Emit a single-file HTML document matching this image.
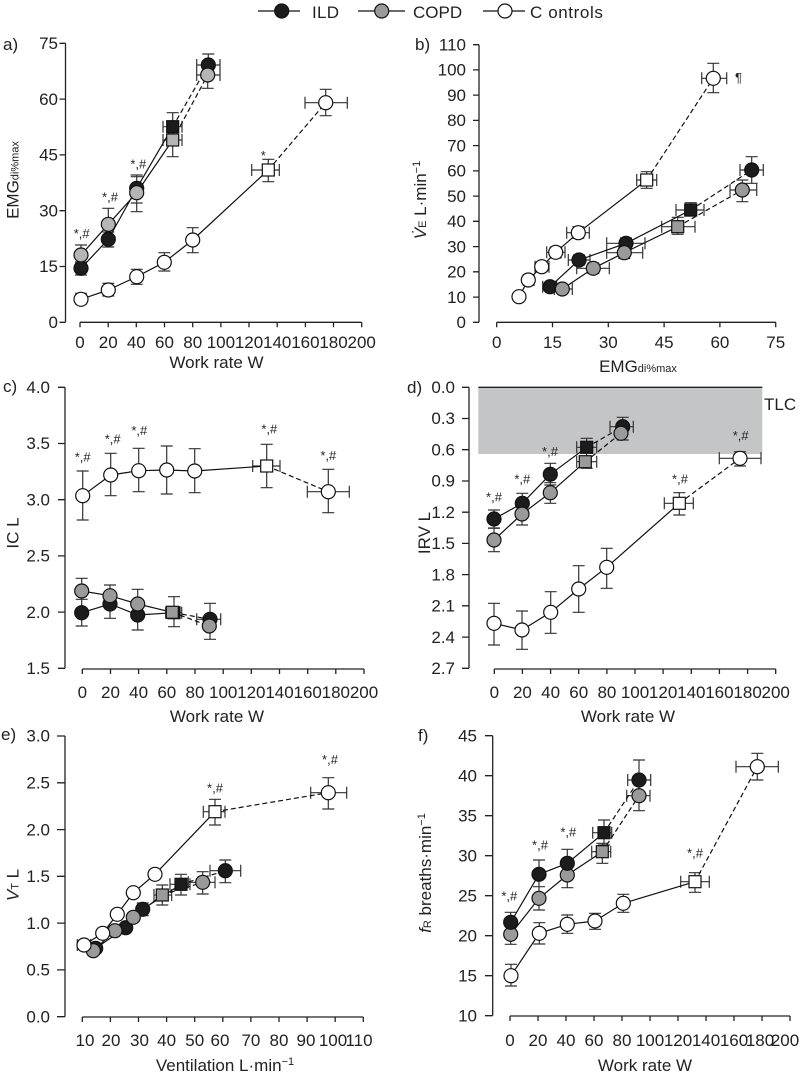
<!DOCTYPE html>
<html><head><meta charset="utf-8"><style>
html,body{margin:0;padding:0;background:#fff;}
svg{display:block;}
.ax{stroke:#222;stroke-width:1.3;fill:none}
.eb{stroke:#333;stroke-width:1.2;fill:none}
.ln{stroke:#111;stroke-width:1.2;fill:none}
.dl{stroke:#111;stroke-width:1.2;fill:none;stroke-dasharray:5 3}
.k{fill:#1c1c1c;stroke:#111;stroke-width:1.2}
.g{fill:#9a9a9a;stroke:#111;stroke-width:1.2}
.ga{fill:#b5b5b5;stroke:#111;stroke-width:1.2}
.w{fill:#fff;stroke:#111;stroke-width:1.2}
circle{r:7px}
text{font-family:"Liberation Sans",sans-serif;fill:#222}
.t{font-size:17px}
.an{font-size:13px}
</style></head><body>
<svg width="799" height="1075" viewBox="0 0 799 1075" xmlns="http://www.w3.org/2000/svg">

<!-- Legend -->
<g>
<path class="ln" d="M258 11H300M358 11H405M483 11H525"/>
<circle class="k" cx="281.7" cy="11" r="7"/>
<circle class="g" cx="381.7" cy="11" r="7"/>
<circle class="w" cx="505" cy="11" r="7"/>
<text class="t" x="312" y="18" letter-spacing="0.3">ILD</text>
<text class="t" x="413" y="18">COPD</text>
<text class="t" x="530" y="18" letter-spacing="0.6">C ontrols</text>
</g>

<!-- ================= Panel a ================= -->
<g>
<text class="t" x="3" y="50">a)</text>
<path class="ax" d="M65.5 43.3V322.3M59.5 43.3H65.5M59.5 99.1H65.5M59.5 154.9H65.5M59.5 210.7H65.5M59.5 266.5H65.5M59.5 322.3H65.5
M80 322.3H361.7M80 322.3v5M108.2 322.3v5M136.3 322.3v5M164.5 322.3v5M192.7 322.3v5M220.9 322.3v5M249 322.3v5M277.2 322.3v5M305.4 322.3v5M333.5 322.3v5M361.7 322.3v5"/>
<g class="t" text-anchor="end">
<text x="58" y="49">75</text><text x="58" y="104.8">60</text><text x="58" y="160.6">45</text><text x="58" y="216.4">30</text><text x="58" y="272.2">15</text><text x="58" y="328">0</text>
</g>
<g class="t" text-anchor="middle">
<text x="80" y="348">0</text><text x="108.2" y="348">20</text><text x="136.3" y="348">40</text><text x="164.5" y="348">60</text><text x="192.7" y="348">80</text><text x="220.9" y="348">100</text><text x="249" y="348">120</text><text x="277.2" y="348">140</text><text x="305.4" y="348">160</text><text x="333.5" y="348">180</text><text x="361.7" y="348">200</text>
<text x="216.5" y="368">Work rate W</text>
</g>
<text class="t" text-anchor="middle" transform="translate(18.5,180) rotate(-90)">EMG<tspan font-size="11">di%max</tspan></text>

<path class="eb" d="M81 262V275M75 262h12M75 275h12
M108.3 232V247M102.3 232h12M102.3 247h12
M136.7 175V203M130.7 175h12M130.7 203h12
M172.7 112.7V140M166.7 112.7h12M166.7 140h12
M163 126.7H182M163 120.7v12M182 120.7v12
M208.3 54V75M202.3 54h12M202.3 75h12
M196.7 65H220M196.7 59v12M220 59v12
M81 245V263.3M75 245h12M75 263.3h12
M108.3 208.3V240M102.3 208.3h12M102.3 240h12
M136.7 176.7V211.7M130.7 176.7h12M130.7 211.7h12
M172.7 126V156.7M166.7 126h12M166.7 156.7h12
M163 140H182M163 134v12M182 134v12
M207.7 66.7V88.3M201.7 66.7h12M201.7 88.3h12
M196.7 75H220M196.7 69v12M220 69v12
M81 293.3V304M75 293.3h12M75 304h12
M108.3 283.3V296M102.3 283.3h12M102.3 296h12
M136.7 269.3V284.3M130.7 269.3h12M130.7 284.3h12
M164.3 252.7V271M158.3 252.7h12M158.3 271h12
M192.7 227.7V252.7M186.7 227.7h12M186.7 252.7h12
M268.3 159.3V181.7M262.3 159.3h12M262.3 181.7h12
M251.7 170H279.3M251.7 164v12M279.3 164v12
M325.7 89.3V115.7M319.7 89.3h12M319.7 115.7h12
M305 102.7H347.3M305 96.7v12M347.3 96.7v12"/>
<path class="ln" d="M81 268.3L108.3 239.3L136.7 188.3L172.7 126.7M81 255L108.3 224.3L136.7 192.7L172.7 140M81 299.3L108.3 290L136.7 276.7L164.3 262.3L192.7 240L268.3 170"/>
<path class="dl" d="M172.7 126.7L208.3 65M172.7 140L207.7 75M268.3 170L325.7 102.7"/>
<g class="k"><circle cx="81" cy="268.3" r="6.7"/><circle cx="108.3" cy="239.3" r="6.7"/><circle cx="136.7" cy="188.3" r="6.7"/><circle cx="208.3" cy="65" r="6.7"/><rect x="166.7" y="120.7" width="12" height="12"/></g>
<g class="ga"><circle cx="81" cy="255" r="6.7"/><circle cx="108.3" cy="224.3" r="6.7"/><circle cx="136.7" cy="192.7" r="6.7"/><circle cx="207.7" cy="75" r="6.7"/><rect x="166.7" y="134" width="12" height="12"/></g>
<g class="w"><circle cx="81" cy="299.3" r="6.7"/><circle cx="108.3" cy="290" r="6.7"/><circle cx="136.7" cy="276.7" r="6.7"/><circle cx="164.3" cy="262.3" r="6.7"/><circle cx="192.7" cy="240" r="6.7"/><circle cx="325.7" cy="102.7" r="6.7"/><rect x="262.3" y="164" width="12" height="12"/></g>
<g class="an" text-anchor="middle"><text x="81.7" y="238">*,#</text><text x="110" y="201.7">*,#</text><text x="138.3" y="168.3">*,#</text><text x="263.3" y="160">*</text></g>
</g>

<!-- ================= Panel b ================= -->
<g>
<text class="t" x="415" y="50">b)</text>
<path class="ax" d="M479 44.7V322.3M473 322.3H479M473 297.1H479M473 271.8H479M473 246.6H479M473 221.3H479M473 196.1H479M473 170.9H479M473 145.6H479M473 120.4H479M473 95.1H479M473 69.9H479M473 44.7H479
M496.7 322.3H775.7M496.7 322.3v5M552.5 322.3v5M608.3 322.3v5M664.1 322.3v5M719.9 322.3v5M775.7 322.3v5"/>
<g class="t" text-anchor="end">
<text x="466" y="328">0</text><text x="466" y="302.8">10</text><text x="466" y="277.5">20</text><text x="466" y="252.3">30</text><text x="466" y="227">40</text><text x="466" y="201.8">50</text><text x="466" y="176.6">60</text><text x="466" y="151.3">70</text><text x="466" y="126.1">80</text><text x="466" y="100.8">90</text><text x="466" y="75.6">100</text><text x="466" y="50.4">110</text>
</g>
<g class="t" text-anchor="middle">
<text x="496.7" y="348">0</text><text x="552.5" y="348">15</text><text x="608.3" y="348">30</text><text x="664.1" y="348">45</text><text x="719.9" y="348">60</text><text x="775.7" y="348">75</text>
<text x="638" y="372">EMG<tspan font-size="11">di%max</tspan></text>
</g>
<text class="t" text-anchor="middle" transform="translate(426,200) rotate(-90)"><tspan font-style="italic">V̇</tspan><tspan font-size="11">E</tspan> L·min<tspan font-size="11" dy="-6">−1</tspan></text>

<path class="eb" d="M713.3 63.3V92.7M707.3 63.3h12M707.3 92.7h12
M701.7 78.3H726.7M701.7 72.3v12M726.7 72.3v12
M646.7 171.7V188.3M640.7 171.7h12M640.7 188.3h12
M636.7 180H656.7M636.7 174v12M656.7 174v12
M578.3 226.7V238.3M572.3 226.7h12M572.3 238.3h12
M566.7 232.7H589.3M566.7 226.7v12M589.3 226.7v12
M555.7 247V258M549.7 247h12M549.7 258h12
M546.7 252.3H565M546.7 246.3v12M565 246.3v12
M541.7 262V271.5M535.7 262h12M535.7 271.5h12
M535 266.7H549M535 260.7v12M549 260.7v12
M523.3 280H534M523.3 274v12M534 274v12
M751.7 156.7V183.3M745.7 156.7h12M745.7 183.3h12
M740 170H763.3M740 164v12M763.3 164v12
M690.7 202.7V216M684.7 202.7h12M684.7 216h12
M676 210H704M676 204v12M704 204v12
M626 238V248.7M620 238h12M620 248.7h12
M606.7 243.3H645M606.7 237.3v12M645 237.3v12
M579 255V265M573 255h12M573 265h12
M568.3 260H590M568.3 254v12M590 254v12
M542.7 286.7H556.7M542.7 280.7v12M556.7 280.7v12
M742.3 180V201.7M736.3 180h12M736.3 201.7h12
M730 190H756.7M730 184v12M756.7 184v12
M677.7 217.3V234.3M671.7 217.3h12M671.7 234.3h12
M661.7 226.7H695M661.7 220.7v12M695 220.7v12
M624.3 247V258.5M618.3 247h12M618.3 258.5h12
M606.7 252.7H642.7M606.7 246.7v12M642.7 246.7v12
M593.3 263V273.5M587.3 263h12M587.3 273.5h12
M576.7 268.3H609.3M576.7 262.3v12M609.3 262.3v12
M554.3 289H572.3M554.3 283v12M572.3 283v12"/>
<path class="ln" d="M519 296.7L528.3 280L541.7 266.7L555.7 252.3L578.3 232.7L646.7 180M550 286.7L579 260L626 243.3L690.7 210M562.3 289L593.3 268.3L624.3 252.7L677.7 226.7"/>
<path class="dl" d="M646.7 180L713.3 78.3M690.7 210L751.7 170M677.7 226.7L742.3 190"/>
<g class="w"><circle cx="519" cy="296.7" r="6.7"/><circle cx="528.3" cy="280" r="6.7"/><circle cx="541.7" cy="266.7" r="6.7"/><circle cx="555.7" cy="252.3" r="6.7"/><circle cx="578.3" cy="232.7" r="6.7"/><circle cx="713.3" cy="78.3" r="6.7"/><rect x="640.7" y="174" width="12" height="12"/></g>
<g class="k"><circle cx="550" cy="286.7" r="6.7"/><circle cx="579" cy="260" r="6.7"/><circle cx="626" cy="243.3" r="6.7"/><circle cx="751.7" cy="170" r="6.7"/><rect x="684.7" y="204" width="12" height="12"/></g>
<g class="g"><circle cx="562.3" cy="289" r="6.7"/><circle cx="593.3" cy="268.3" r="6.7"/><circle cx="624.3" cy="252.7" r="6.7"/><circle cx="742.3" cy="190" r="6.7"/><rect x="671.7" y="220.7" width="12" height="12"/></g>
<text class="an" x="735" y="82">¶</text>
</g>

<!-- ================= Panel c ================= -->
<g>
<text class="t" x="3" y="392">c)</text>
<path class="ax" d="M65 387.3V668.3M58 387.3H65M58 443.5H65M58 499.7H65M58 555.9H65M58 612.1H65M58 668.3H65
M82.3 669H364M82.3 669v5M110.5 669v5M138.6 669v5M166.8 669v5M195 669v5M223.2 669v5M251.3 669v5M279.5 669v5M307.7 669v5M335.8 669v5M364 669v5"/>
<g class="t" text-anchor="end">
<text x="50" y="393">4.0</text><text x="50" y="449.2">3.5</text><text x="50" y="505.4">3.0</text><text x="50" y="561.6">2.5</text><text x="50" y="617.8">2.0</text><text x="50" y="674">1.5</text>
</g>
<g class="t" text-anchor="middle">
<text x="82.3" y="698">0</text><text x="110.5" y="698">20</text><text x="138.6" y="698">40</text><text x="166.8" y="698">60</text><text x="195" y="698">80</text><text x="223.2" y="698">100</text><text x="251.3" y="698">120</text><text x="279.5" y="698">140</text><text x="307.7" y="698">160</text><text x="335.8" y="698">180</text><text x="364" y="698">200</text>
<text x="217" y="722">Work rate W</text>
</g>
<text class="t" text-anchor="middle" transform="translate(18.5,533) rotate(-90)">IC L</text>

<path class="eb" d="M82.7 471V520M76.7 471h12M76.7 520h12
M110.7 453.3V495.7M104.7 453.3h12M104.7 495.7h12
M138.7 448.3V491.7M132.7 448.3h12M132.7 491.7h12
M166.7 446V494M160.7 446h12M160.7 494h12
M194.7 448.7V492.7M188.7 448.7h12M188.7 492.7h12
M266.7 444.3V487.7M260.7 444.3h12M260.7 487.7h12
M252.7 466H280M252.7 460v12M280 460v12
M328.3 469.3V512.7M322.3 469.3h12M322.3 512.7h12
M307.3 491.7H349.3M307.3 485.7v12M349.3 485.7v12
M81.7 599.3V626M75.7 599.3h12M75.7 626h12
M110 591.7V618.3M104 591.7h12M104 618.3h12
M137.7 603.3V630M131.7 603.3h12M131.7 630h12
M174 596.7V626.7M168 596.7h12M168 626.7h12
M165.7 612.7H181.7M165.7 606.7v12M181.7 606.7v12
M210 603.3V639.3M204 603.3h12M204 639.3h12
M196.7 619.3H220.7M196.7 613.3v12M220.7 613.3v12
M81.7 578.3V599.3M75.7 578.3h12M75.7 599.3h12
M110 585V606M104 585h12M104 606h12
M137.7 589.3V612.7M131.7 589.3h12M131.7 612.7h12"/>
<path class="ln" d="M82.7 495.7L110.7 475L138.7 470.7L166.7 470L194.7 471L266.7 466M81.7 612.7L110 604L137.7 615L174 612.7M81.7 591L110 595.7L137.7 604L172.3 612.3"/>
<path class="dl" d="M266.7 466L328.3 491.7M174 612.7L210 619.3M172.3 612.3L209.3 626"/>
<g class="w"><circle cx="82.7" cy="495.7" r="6.7"/><circle cx="110.7" cy="475" r="6.7"/><circle cx="138.7" cy="470.7" r="6.7"/><circle cx="166.7" cy="470" r="6.7"/><circle cx="194.7" cy="471" r="6.7"/><circle cx="328.3" cy="491.7" r="6.7"/><rect x="260.7" y="460" width="12" height="12"/></g>
<g class="k"><circle cx="81.7" cy="612.7" r="6.7"/><circle cx="110" cy="604" r="6.7"/><circle cx="137.7" cy="615" r="6.7"/><circle cx="210" cy="619.3" r="6.7"/><rect x="168" y="606.7" width="12" height="12"/></g>
<g class="g"><circle cx="81.7" cy="591" r="6.7"/><circle cx="110" cy="595.7" r="6.7"/><circle cx="137.7" cy="604" r="6.7"/><circle cx="209.3" cy="626" r="6.7"/><rect x="166.3" y="606.3" width="12" height="12"/></g>
<g class="an" text-anchor="middle"><text x="82.7" y="461.7">*,#</text><text x="112.7" y="443.3">*,#</text><text x="139.3" y="435">*,#</text><text x="269.3" y="433.3">*,#</text><text x="328.3" y="460">*,#</text></g>
</g>

<!-- ================= Panel d ================= -->
<g>
<rect x="478.3" y="387.3" width="284" height="66.7" fill="#c4c5c7"/>
<path class="ax" d="M478.3 387.3H762.3"/>
<text class="t" x="764" y="410">TLC</text>
<text class="t" x="407" y="393">d)</text>
<path class="ax" d="M469 387.3V668.3M462 387.3H469M462 418.5H469M462 449.7H469M462 481H469M462 512.2H469M462 543.4H469M462 574.6H469M462 605.8H469M462 637.1H469M462 668.3H469
M494.3 669H775.7M494.3 669v5M522.4 669v5M550.6 669v5M578.7 669v5M606.9 669v5M635 669v5M663.1 669v5M691.3 669v5M719.4 669v5M747.6 669v5M775.7 669v5"/>
<g class="t" text-anchor="end">
<text x="455" y="393">0.0</text><text x="455" y="424.2">0.3</text><text x="455" y="455.4">0.6</text><text x="455" y="486.7">0.9</text><text x="455" y="517.9">1.2</text><text x="455" y="549.1">1.5</text><text x="455" y="580.3">1.8</text><text x="455" y="611.5">2.1</text><text x="455" y="642.8">2.4</text><text x="455" y="674">2.7</text>
</g>
<g class="t" text-anchor="middle">
<text x="494.3" y="698">0</text><text x="522.4" y="698">20</text><text x="550.6" y="698">40</text><text x="578.7" y="698">60</text><text x="606.9" y="698">80</text><text x="635" y="698">100</text><text x="663.1" y="698">120</text><text x="691.3" y="698">140</text><text x="719.4" y="698">160</text><text x="747.6" y="698">180</text><text x="775.7" y="698">200</text>
<text x="628" y="722">Work rate W</text>
</g>
<text class="t" text-anchor="middle" transform="translate(430,533) rotate(-90)">IRV L</text>

<path class="eb" d="M494 603.3V645M488 603.3h12M488 645h12
M522 611V649.3M516 611h12M516 649.3h12
M550.7 591.7V633.3M544.7 591.7h12M544.7 633.3h12
M578.7 565.7V612.3M572.7 565.7h12M572.7 612.3h12
M606.7 548.3V588.3M600.7 548.3h12M600.7 588.3h12
M679.3 492.7V515M673.3 492.7h12M673.3 515h12
M664.3 503.3H693.3M664.3 497.3v12M693.3 497.3v12
M740 451.7V466M734 451.7h12M734 466h12
M719.3 458.3H761M719.3 452.3v12M761 452.3v12
M494 510V528M488 510h12M488 528h12
M522.3 493.3V513.3M516.3 493.3h12M516.3 513.3h12
M550.3 463.3V485M544.3 463.3h12M544.3 485h12
M586.7 438.3V468.3M580.7 438.3h12M580.7 468.3h12
M576.7 447.3H596.7M576.7 441.3v12M596.7 441.3v12
M622.7 417.3V440M616.7 417.3h12M616.7 440h12
M610 426.7H633.3M610 420.7v12M633.3 420.7v12
M494 528.3V551.7M488 528.3h12M488 551.7h12
M522 505V525M516 505h12M516 525h12
M550.3 482.7V503.3M544.3 482.7h12M544.3 503.3h12
M576.7 461.7H596.7M576.7 455.7v12M596.7 455.7v12"/>
<path class="ln" d="M494 623.3L522 630L550.7 612.3L578.7 589L606.7 567.3L679.3 503.3M494 519L522.3 503.3L550.3 474.3L586.7 447.3M494 540L522 514L550.3 492.7L585.3 461.7"/>
<path class="dl" d="M679.3 503.3L740 458.3M586.7 447.3L622.7 426.7M585.3 461.7L621 433.3"/>
<g class="w"><circle cx="494" cy="623.3" r="6.7"/><circle cx="522" cy="630" r="6.7"/><circle cx="550.7" cy="612.3" r="6.7"/><circle cx="578.7" cy="589" r="6.7"/><circle cx="606.7" cy="567.3" r="6.7"/><circle cx="740" cy="458.3" r="6.7"/><rect x="673.3" y="497.3" width="12" height="12"/></g>
<g class="g"><rect x="579.3" y="455.7" width="12" height="12"/></g>
<g class="k"><circle cx="494" cy="519" r="6.7"/><circle cx="522.3" cy="503.3" r="6.7"/><circle cx="550.3" cy="474.3" r="6.7"/><circle cx="622.7" cy="426.7" r="6.7"/><rect x="580.7" y="441.3" width="12" height="12"/></g>
<g class="g"><circle cx="494" cy="540" r="6.7"/><circle cx="522" cy="514" r="6.7"/><circle cx="550.3" cy="492.7" r="6.7"/><circle cx="621" cy="433.3" r="6.7"/></g>
<g class="an" text-anchor="middle"><text x="494" y="501.7">*,#</text><text x="522.3" y="483.3">*,#</text><text x="550" y="456">*,#</text><text x="680" y="483.3">*,#</text><text x="740.7" y="440">*,#</text></g>
</g>

<!-- ================= Panel e ================= -->
<g>
<text class="t" x="1" y="740">e)</text>
<path class="ax" d="M65 736V1016.7M57 736H65M57 782.8H65M57 829.6H65M57 876.3H65M57 923.1H65M57 969.9H65M57 1016.7H65
M82.3 1017H363.3M82.3 1017v5M110.4 1017v5M138.5 1017v5M166.6 1017v5M194.7 1017v5M222.8 1017v5M250.9 1017v5M279 1017v5M307.1 1017v5M335.2 1017v5M363.3 1017v5"/>
<g class="t" text-anchor="end">
<text x="50" y="741.7">3.0</text><text x="50" y="788.5">2.5</text><text x="50" y="835.3">2.0</text><text x="50" y="882">1.5</text><text x="50" y="928.8">1.0</text><text x="50" y="975.6">0.5</text><text x="50" y="1022.4">0.0</text>
</g>
<g class="t" text-anchor="middle">
<text x="85" y="1046">10</text><text x="111" y="1046">20</text><text x="139.5" y="1046">30</text><text x="166.6" y="1046">40</text><text x="194.7" y="1046">50</text><text x="220" y="1046">60</text><text x="250.9" y="1046">70</text><text x="279" y="1046">80</text><text x="306" y="1046">90</text><text x="333" y="1046">100</text><text x="359" y="1046">110</text>
<text x="225" y="1071">Ventilation L·min<tspan font-size="11" dy="-6">−1</tspan></text>
</g>
<text class="t" text-anchor="middle" transform="translate(18.5,885) rotate(-90)"><tspan font-style="italic">V</tspan><tspan font-size="11">T</tspan> L</text>

<path class="eb" d="M77.3 945H90.7M77.3 939v12M90.7 939v12
M215 799.3V825M209 799.3h12M209 825h12
M203.3 811.7H225M203.3 805.7v12M225 805.7v12
M328.3 777.7V809M322.3 777.7h12M322.3 809h12
M310.7 792.7H346.7M310.7 786.7v12M346.7 786.7v12
M225.3 860V882.7M219.3 860h12M219.3 882.7h12
M210 870.7H240.7M210 864.7v12M240.7 864.7v12
M181 874.3V895M175 874.3h12M175 895h12
M170 884.3H190M170 878.3v12M190 878.3v12
M142.7 903V915.6M136.7 903h12M136.7 915.6h12
M202.7 871.7V894M196.7 871.7h12M196.7 894h12
M188.3 882.3H215M188.3 876.3v12M215 876.3v12
M162.3 885V905M156.3 885h12M156.3 905h12
M154 895H171.7M154 889v12M171.7 889v12"/>
<path class="ln" d="M84 945L102.7 933.3L117.3 914.3L133.3 892.7L155 874.3L215 811.7M95.7 948.3L125.7 927.7L142.7 909.3L181 884.3M93.3 950.7L115 930.7L133.3 917.3L162.3 895"/>
<path class="dl" d="M215 811.7L328.3 792.7M181 884.3L225.3 870.7M162.3 895L202.7 882.3"/>
<g class="k"><circle cx="95.7" cy="948.3" r="6.7"/><circle cx="125.7" cy="927.7" r="6.7"/><circle cx="142.7" cy="909.3" r="6.7"/><circle cx="225.3" cy="870.7" r="6.7"/><rect x="175" y="878.3" width="12" height="12"/></g>
<g class="g"><circle cx="93.3" cy="950.7" r="6.7"/><circle cx="115" cy="930.7" r="6.7"/><circle cx="133.3" cy="917.3" r="6.7"/><circle cx="202.7" cy="882.3" r="6.7"/><rect x="156.3" y="889" width="12" height="12"/></g>
<g class="w"><circle cx="84" cy="945" r="6.7"/><circle cx="102.7" cy="933.3" r="6.7"/><circle cx="117.3" cy="914.3" r="6.7"/><circle cx="133.3" cy="892.7" r="6.7"/><circle cx="155" cy="874.3" r="6.7"/><circle cx="328.3" cy="792.7" r="6.7"/><rect x="209" y="805.7" width="12" height="12"/></g>
<g class="an" text-anchor="middle"><text x="215" y="792.3">*,#</text><text x="330" y="764">*,#</text></g>
</g>

<!-- ================= Panel f ================= -->
<g>
<text class="t" x="418" y="741">f)</text>
<path class="ax" d="M492.7 735.7V1015.7M485 735.7H492.7M485 775.7H492.7M485 815.7H492.7M485 855.7H492.7M485 895.7H492.7M485 935.7H492.7M485 975.7H492.7M485 1015.7H492.7
M510 1016H790M510 1016v5M538 1016v5M566 1016v5M594 1016v5M622 1016v5M650 1016v5M678 1016v5M706 1016v5M734 1016v5M762 1016v5M790 1016v5"/>
<g class="t" text-anchor="end">
<text x="477" y="741.4">45</text><text x="477" y="781.4">40</text><text x="477" y="821.4">35</text><text x="477" y="861.4">30</text><text x="477" y="901.4">25</text><text x="477" y="941.4">20</text><text x="477" y="981.4">15</text><text x="477" y="1021.4">10</text>
</g>
<g class="t" text-anchor="middle">
<text x="510" y="1046">0</text><text x="538" y="1046">20</text><text x="566" y="1046">40</text><text x="594" y="1046">60</text><text x="622" y="1046">80</text><text x="650" y="1046">100</text><text x="678" y="1046">120</text><text x="706" y="1046">140</text><text x="734" y="1046">160</text><text x="760" y="1046">180</text><text x="785" y="1046">200</text>
<text x="645" y="1071">Work rate W</text>
</g>
<text class="t" text-anchor="middle" transform="translate(431,873) rotate(-90)"><tspan font-style="italic">f</tspan><tspan font-size="11">R</tspan> breaths·min<tspan font-size="11" dy="-6">−1</tspan></text>

<path class="eb" d="M511 964.3V986M505 964.3h12M505 986h12
M539.3 922.7V944M533.3 922.7h12M533.3 944h12
M567.3 915V933.3M561.3 915h12M561.3 933.3h12
M595 913.3V929.3M589 913.3h12M589 929.3h12
M623.3 894.3V912.3M617.3 894.3h12M617.3 912.3h12
M695 872.7V892.3M689 872.7h12M689 892.3h12
M680.7 881.7H709.3M680.7 875.7v12M709.3 875.7v12
M757.3 753.3V780M751.3 753.3h12M751.3 780h12
M736 766.7H778.3M736 760.7v12M778.3 760.7v12
M510.7 912.3V933.3M504.7 912.3h12M504.7 933.3h12
M539 860V886.7M533 860h12M533 886.7h12
M567.3 849.3V876.7M561.3 849.3h12M561.3 876.7h12
M604 820V845M598 820h12M598 845h12
M592.7 832.7H611.7M592.7 826.7v12M611.7 826.7v12
M639 760V795M633 760h12M633 795h12
M627.7 780H650.7M627.7 774v12M650.7 774v12
M510.7 926.7V944.3M504.7 926.7h12M504.7 944.3h12
M539 886.7V910M533 886.7h12M533 910h12
M567.3 863.3V887.7M561.3 863.3h12M561.3 887.7h12
M602.3 843.3V863.3M596.3 843.3h12M596.3 863.3h12
M591.7 851.7H610.7M591.7 845.7v12M610.7 845.7v12
M639 783.3V810.7M633 783.3h12M633 810.7h12
M626.7 795.7H650M626.7 789.7v12M650 789.7v12"/>
<path class="ln" d="M511 975.7L539.3 933.3L567.3 924.3L595 921L623.3 903.3L695 881.7M510.7 922.3L539 874.3L567.3 863.3L604 832.7M510.7 934.3L539 898.3L567.3 875L602.3 851.7"/>
<path class="dl" d="M695 881.7L757.3 766.7M604 832.7L639 780M602.3 851.7L639 795.7"/>
<g class="w"><circle cx="511" cy="975.7" r="6.7"/><circle cx="539.3" cy="933.3" r="6.7"/><circle cx="567.3" cy="924.3" r="6.7"/><circle cx="595" cy="921" r="6.7"/><circle cx="623.3" cy="903.3" r="6.7"/><circle cx="757.3" cy="766.7" r="6.7"/><rect x="689" y="875.7" width="12" height="12"/></g>
<g class="g"><circle cx="510.7" cy="934.3" r="6.7"/><circle cx="539" cy="898.3" r="6.7"/><circle cx="567.3" cy="875" r="6.7"/><circle cx="639" cy="795.7" r="6.7"/><rect x="596.3" y="845.7" width="12" height="12"/></g>
<g class="k"><circle cx="510.7" cy="922.3" r="6.7"/><circle cx="539" cy="874.3" r="6.7"/><circle cx="567.3" cy="863.3" r="6.7"/><circle cx="639" cy="780" r="6.7"/><rect x="598" y="826.7" width="12" height="12"/></g>
<g class="an" text-anchor="middle"><text x="509.3" y="900.7">*,#</text><text x="540" y="849.3">*,#</text><text x="568.3" y="836.7">*,#</text><text x="695" y="857.7">*,#</text></g>
</g>

</svg>
</body></html>
